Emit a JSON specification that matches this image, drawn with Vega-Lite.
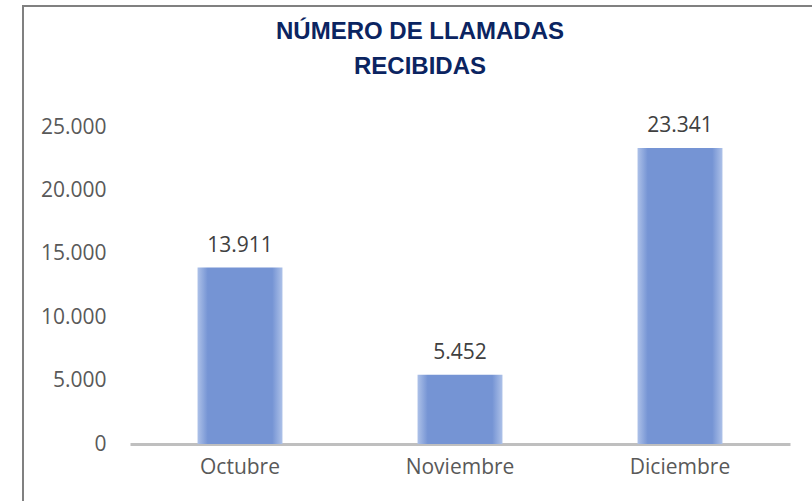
{
  "$schema": "https://vega.github.io/schema/vega-lite/v6.json",
  "width": 800,
  "height": 505,
  "autosize": "none",
  "padding": {"left": 23, "top": 6, "right": 0, "bottom": 0},
  "background": "white",
  "title": {
    "text": ["NÚMERO DE LLAMADAS", "RECIBIDAS"],
    "anchor": "middle",
    "frame": "group",
    "dx": -3,
    "offset": -73,
    "baseline": "top",
    "font": "Liberation Sans",
    "fontSize": 24,
    "fontWeight": "bold",
    "color": "#0b2461",
    "lineHeight": 35
  },
  "config": {
    "view": {"stroke": "#808080", "strokeWidth": 2},
    "font": "Open Sans",
    "locale": {
      "number": {"decimal": ",", "thousands": ".", "grouping": [3], "currency": ["", " €"]}
    }
  },
  "data": {
    "values": [
      {"mes": "Octubre", "llamadas": 13911},
      {"mes": "Noviembre", "llamadas": 5452},
      {"mes": "Diciembre", "llamadas": 23341}
    ]
  },
  "encoding": {
    "x": {
      "field": "mes",
      "type": "nominal",
      "sort": null,
      "scale": {"range": [107, 767], "paddingInner": 0.614, "paddingOuter": 0.307},
      "axis": {
        "title": null,
        "offset": -67,
        "labelAngle": 0,
        "labelFont": "Open Sans",
        "labelFontSize": 21,
        "labelColor": "#595959",
        "labelPadding": 12,
        "ticks": false,
        "domainColor": "#bfbfbf",
        "domainWidth": 3,
        "grid": false
      }
    },
    "y": {
      "field": "llamadas",
      "type": "quantitative",
      "scale": {"domain": [0, 25000], "range": [438, 121], "nice": false},
      "axis": {
        "title": null,
        "offset": -107,
        "values": [0, 5000, 10000, 15000, 20000, 25000],
        "format": ",d",
        "labelFont": "Open Sans",
        "labelFontSize": 21,
        "labelColor": "#595959",
        "labelPadding": 24,
        "ticks": false,
        "domain": false,
        "grid": false
      }
    }
  },
  "layer": [
    {
      "mark": {
        "type": "bar",
        "color": {
          "gradient": "linear",
          "x1": 0, "y1": 0, "x2": 1, "y2": 0,
          "stops": [
            {"offset": 0, "color": "#adc1e8"},
            {"offset": 0.12, "color": "#7594d4"},
            {"offset": 0.88, "color": "#7594d4"},
            {"offset": 1, "color": "#adc1e8"}
          ]
        }
      }
    },
    {
      "mark": {
        "type": "text",
        "baseline": "bottom",
        "dy": -12,
        "font": "Open Sans",
        "fontSize": 21,
        "color": "#404040"
      },
      "encoding": {
        "text": {"field": "llamadas", "type": "quantitative", "format": ",d"}
      }
    }
  ]
}
